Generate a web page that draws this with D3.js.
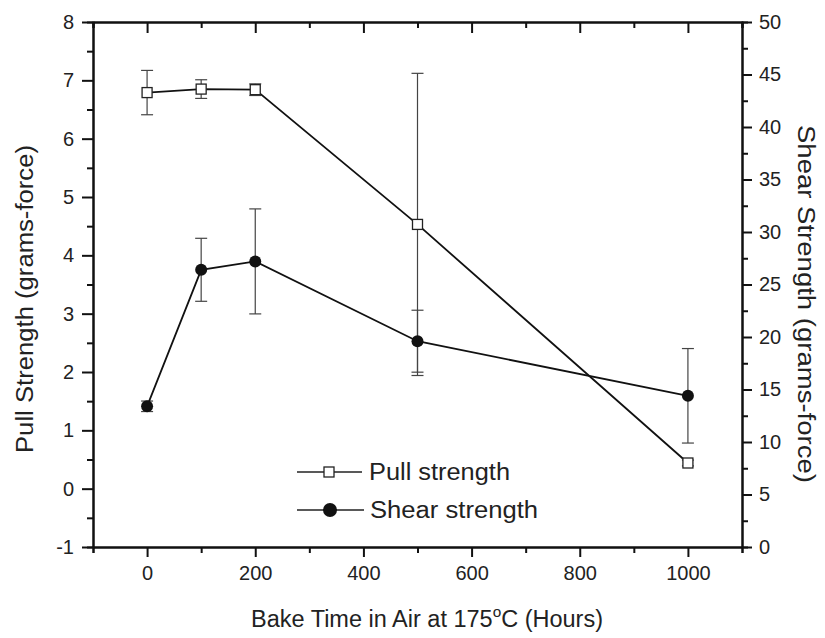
<!DOCTYPE html>
<html lang="en">
<head>
  <meta charset="UTF-8">
  <script src="https://d3js.org/d3.v7.min.js"></script>
  <title>Bake Time vs Strength</title>
  <style>
    body { margin: 0; background: #fff; }
    text { font-family: "Liberation Sans", Arial, sans-serif; fill: #222; }
  </style>
</head>
<body>
<div id="chart"></div>
<script>

// data
var bakeHours = [0, 100, 200, 500, 1000];
var pullMean  = [6.79, 6.85, 6.84, 4.53, 0.44];
var pullErr   = [0.38, 0.16, 0.10, 2.59, 0.05];
var shearMean = [13.4, 26.4, 27.2, 19.6, 14.4];
var shearErr  = [0.5, 3.0, 5.0, 2.95, 4.5];

var xTicks = [0, 200, 400, 600, 800, 1000];
var xMinor = [-100, 100, 300, 500, 700, 900, 1100];
var leftTicks = [-1, 0, 1, 2, 3, 4, 5, 6, 7, 8];
var leftMinor = [-0.5, 0.5, 1.5, 2.5, 3.5, 4.5, 5.5, 6.5, 7.5];
var rightTicks = [0, 5, 10, 15, 20, 25, 30, 35, 40, 45, 50];
var rightMinor = [2.5, 7.5, 12.5, 17.5, 22.5, 27.5, 32.5, 37.5, 42.5, 47.5];
var legendLabels = ["Pull strength", "Shear strength"];

var W = 825, H = 638;
var mLeft = 93, mRight = 742, mTop = 22, mBottom = 547;

var svg = d3.select("#chart").append("svg")
  .attr("width", W)
  .attr("height", H);

var x = d3.scaleLinear().domain([-100, 1100]).range([mLeft, mRight]);
var yL = d3.scaleLinear().domain([-1, 8]).range([mBottom, mTop]);
var yR = d3.scaleLinear().domain([0, 50]).range([mBottom, mTop]);

function styleAxis(g, fs) {
  g.select(".domain").attr("stroke", "#111").attr("stroke-width", 2);
  g.selectAll(".tick line").attr("stroke", "#111").attr("stroke-width", 2);
  g.selectAll(".tick text").attr("font-size", fs).attr("fill", "#222")
    .attr("font-family", "Liberation Sans, Arial, sans-serif");
}

var plain = function(d) { return String(d); };

// minor ticks first (no labels)
svg.append("g").attr("transform", "translate(0," + mBottom + ")")
  .call(d3.axisBottom(x).tickValues(xMinor).tickSize(6).tickFormat(""))
  .call(styleAxis, 0);
svg.append("g").attr("transform", "translate(0," + mTop + ")")
  .call(d3.axisTop(x).tickValues(xMinor).tickSize(-6).tickFormat(""))
  .call(styleAxis, 0);
svg.append("g").attr("transform", "translate(" + mLeft + ",0)")
  .call(d3.axisLeft(yL).tickValues(leftMinor).tickSize(6).tickFormat(""))
  .call(styleAxis, 0);
svg.append("g").attr("transform", "translate(" + mRight + ",0)")
  .call(d3.axisRight(yR).tickValues(rightMinor).tickSize(6).tickFormat(""))
  .call(styleAxis, 0);

// major axes
svg.append("g").attr("transform", "translate(0," + mBottom + ")")
  .call(d3.axisBottom(x).tickValues(xTicks).tickFormat(plain).tickSize(10).tickSizeOuter(0).tickPadding(9))
  .call(styleAxis, 20);
svg.append("g").attr("transform", "translate(0," + mTop + ")")
  .call(d3.axisTop(x).tickValues(xTicks).tickSize(-11).tickSizeOuter(0).tickFormat(""))
  .call(styleAxis, 0);
svg.append("g").attr("transform", "translate(" + mLeft + ",0)")
  .call(d3.axisLeft(yL).tickValues(leftTicks).tickFormat(plain).tickSize(11).tickSizeOuter(0).tickPadding(8))
  .call(styleAxis, 20);
svg.append("g").attr("transform", "translate(" + mRight + ",0)")
  .call(d3.axisRight(yR).tickValues(rightTicks).tickFormat(plain).tickSize(10).tickSizeOuter(0).tickPadding(7))
  .call(styleAxis, 20);

// axis titles
var xt = svg.append("text")
  .attr("x", 427).attr("y", 627)
  .attr("text-anchor", "middle")
  .attr("font-size", 23)
  .attr("textLength", 352).attr("lengthAdjust", "spacingAndGlyphs");
xt.append("tspan").text("Bake Time in Air at 175");
xt.append("tspan").attr("font-size", 15).attr("dy", -10).text("o");
xt.append("tspan").attr("dy", 10).text("C (Hours)");

svg.append("text")
  .attr("transform", "translate(33,299) rotate(-90)")
  .attr("text-anchor", "middle")
  .attr("font-size", 23)
  .attr("textLength", 308).attr("lengthAdjust", "spacingAndGlyphs")
  .text("Pull Strength (grams-force)");

svg.append("text")
  .attr("transform", "translate(798,304) rotate(90)")
  .attr("text-anchor", "middle")
  .attr("font-size", 23)
  .attr("textLength", 358).attr("lengthAdjust", "spacingAndGlyphs")
  .text("Shear Strength (grams-force)");

var pull = bakeHours.map(function(h, i) { return {x: h, y: pullMean[i], e: pullErr[i]}; });
var shear = bakeHours.map(function(h, i) { return {x: h, y: shearMean[i], e: shearErr[i]}; });

function errorBars(data, y) {
  var g = svg.append("g").attr("stroke", "#444").attr("stroke-width", 1.2);
  data.forEach(function(d) {
    g.append("line").attr("x1", x(d.x)).attr("x2", x(d.x))
      .attr("y1", y(d.y - d.e)).attr("y2", y(d.y + d.e));
    [d.y - d.e, d.y + d.e].forEach(function(v) {
      g.append("line").attr("x1", x(d.x) - 6).attr("x2", x(d.x) + 6)
        .attr("y1", y(v)).attr("y2", y(v));
    });
  });
}

errorBars(pull, yL);
errorBars(shear, yR);

var linePull = d3.line().x(function(d) { return x(d.x); }).y(function(d) { return yL(d.y); });
var lineShear = d3.line().x(function(d) { return x(d.x); }).y(function(d) { return yR(d.y); });

svg.append("path").datum(pull).attr("d", linePull)
  .attr("fill", "none").attr("stroke", "#111").attr("stroke-width", 1.8);
svg.append("path").datum(shear).attr("d", lineShear)
  .attr("fill", "none").attr("stroke", "#111").attr("stroke-width", 1.8);

svg.selectAll(".pt-pull").data(pull).enter().append("rect")
  .attr("x", function(d) { return x(d.x) - 5; })
  .attr("y", function(d) { return yL(d.y) - 5; })
  .attr("width", 10).attr("height", 10)
  .attr("fill", "#fff").attr("stroke", "#222").attr("stroke-width", 1.3);

svg.selectAll(".pt-shear").data(shear).enter().append("circle")
  .attr("cx", function(d) { return x(d.x); })
  .attr("cy", function(d) { return yR(d.y); })
  .attr("r", 6).attr("fill", "#111");

// legend
var leg = svg.append("g");
var lx0 = 297, lx1 = 362, lmid = 329;
leg.append("line").attr("x1", lx0).attr("x2", lx1).attr("y1", 472).attr("y2", 472)
  .attr("stroke", "#222").attr("stroke-width", 1.6);
leg.append("rect").attr("x", lmid - 5).attr("y", 467).attr("width", 10).attr("height", 10)
  .attr("fill", "#fff").attr("stroke", "#222").attr("stroke-width", 1.3);
leg.append("text").attr("x", 369).attr("y", 480).attr("font-size", 23)
  .attr("textLength", 141).attr("lengthAdjust", "spacingAndGlyphs")
  .text(legendLabels[0]);

leg.append("line").attr("x1", lx0).attr("x2", lx1 + 2).attr("y1", 510).attr("y2", 510)
  .attr("stroke", "#222").attr("stroke-width", 1.6);
leg.append("circle").attr("cx", lmid + 1).attr("cy", 510).attr("r", 7).attr("fill", "#111");
leg.append("text").attr("x", 370).attr("y", 518).attr("font-size", 23)
  .attr("textLength", 168).attr("lengthAdjust", "spacingAndGlyphs")
  .text(legendLabels[1]);

</script>
</body>
</html>
